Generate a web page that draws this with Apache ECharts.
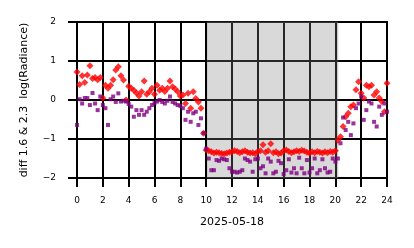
<!DOCTYPE html>
<html>
<head>
<meta charset="utf-8">
<script src="https://cdn.jsdelivr.net/npm/echarts@6/dist/echarts.min.js"></script>
<style>
    html, body { margin: 0; padding: 0; background: #fff; }
    #chart { width: 414px; height: 248px; }
</style>
</head>
<body>
<div id="chart"></div>
<script>
    // hours of the day (UTC)
    var hours = [
        0.0, 0.2, 0.4, 0.6, 0.8, 1.0, 1.2, 1.4, 1.6, 1.8,
        2.0, 2.2, 2.4, 2.6, 2.8, 3.0, 3.2, 3.4, 3.6, 3.8,
        4.0, 4.2, 4.4, 4.6, 4.8, 5.0, 5.2, 5.4, 5.6, 5.8,
        6.0, 6.2, 6.4, 6.6, 6.8, 7.0, 7.2, 7.4, 7.6, 7.8,
        8.0, 8.2, 8.4, 8.6, 8.8, 9.0, 9.2, 9.4, 9.6, 9.8,
        10.0, 10.2, 10.4, 10.6, 10.8, 11.0, 11.2, 11.4, 11.6, 11.8,
        12.0, 12.2, 12.4, 12.6, 12.8, 13.0, 13.2, 13.4, 13.6, 13.8,
        14.0, 14.2, 14.4, 14.6, 14.8, 15.0, 15.2, 15.4, 15.6, 15.8,
        16.0, 16.2, 16.4, 16.6, 16.8, 17.0, 17.2, 17.4, 17.6, 17.8,
        18.0, 18.2, 18.4, 18.6, 18.8, 19.0, 19.2, 19.4, 19.6, 19.8,
        20.0, 20.2, 20.4, 20.6, 20.8, 21.0, 21.2, 21.4, 21.6, 21.8,
        22.0, 22.2, 22.4, 22.6, 22.8, 23.0, 23.2, 23.4, 23.6, 23.8,
        24.0
    ];

    // red diamonds
    var diffRed = [
        0.72, 0.40, 0.62, 0.45, 0.64, 0.88, 0.55, 0.58, 0.52, 0.58,
        0.05, 0.38, 0.30, 0.38, 0.52, 0.77, 0.85, 0.62, 0.51, 0.00,
        0.35, 0.30, 0.25, 0.18, 0.10, 0.21, 0.49, 0.15, 0.21, 0.30,
        0.15, 0.38, 0.25, 0.30, 0.22, 0.30, 0.49, 0.34, 0.28, 0.21,
        0.10, 0.13, -0.09, 0.17, -0.21, 0.21, 0.04, -0.05, -0.21, -0.85,
        -1.28, -1.30, -1.33, -1.36, -1.34, -1.35, -1.37, -1.38, -1.36, -1.34,
        -1.33, -1.30, -1.32, -1.35, -1.33, -1.30, -1.34, -1.36, -1.35, -1.38,
        -1.32, -1.30, -1.15, -1.34, -1.30, -1.12, -1.35, -1.33, -1.38, -1.36,
        -1.30, -1.28, -1.32, -1.35, -1.33, -1.30, -1.32, -1.29, -1.31, -1.34,
        -1.36, -1.33, -1.35, -1.32, -1.34, -1.36, -1.33, -1.35, -1.32, -1.34,
        -1.30, -1.03, -0.94, -0.68, -0.43, -0.34, -0.17, -0.13, 0.26, 0.47,
        0.17, 0.05, 0.38, 0.34, 0.38, 0.13, 0.21, 0.05, -0.04, -0.30,
        0.43
    ];

    // purple squares
    var diffPurple = [
        -0.64, 0.02, -0.09, 0.05, 0.05, -0.13, 0.18, -0.09, -0.26, 0.09,
        -0.13, -0.21, -0.64, 0.02, 0.09, -0.05, 0.17, -0.04, -0.02, -0.04,
        -0.10, -0.17, -0.43, -0.26, -0.38, -0.26, -0.38, -0.30, -0.21, -0.13,
        -0.08, -0.04, 0.00, -0.05, -0.09, -0.02, 0.09, -0.05, -0.09, -0.13,
        -0.15, -0.21, -0.51, -0.30, -0.56, -0.34, -0.30, -0.64, -0.47, -0.85,
        -1.25, -1.50, -1.80, -1.80, -1.54, -1.56, -1.50, -1.52, -1.54, -1.75,
        -1.84, -1.84, -1.86, -1.84, -1.80, -1.50, -1.54, -1.58, -1.84, -1.52,
        -1.50, -1.75, -1.70, -1.88, -1.50, -1.58, -1.88, -1.84, -1.56, -1.62,
        -1.90, -1.80, -1.52, -1.86, -1.75, -1.88, -1.48, -1.75, -1.88, -1.54,
        -1.86, -1.75, -1.50, -1.88, -1.80, -1.52, -1.75, -1.86, -1.84, -1.50,
        -1.58, -1.50, -1.11, -0.45, -0.77, -0.56, -0.90, -0.60, -0.21, -0.09,
        0.09, -0.51, -0.26, -0.04, -0.09, -0.56, -0.68, -0.17, -0.38, -0.09,
        -0.30
    ];

    // night-time shading (hours)
    var shadeStart = 10.1;
    var shadeEnd = 20.2;

    function pairs(ys) {
        var out = [];
        for (var i = 0; i < hours.length; i++) {
            out.push([hours[i], ys[i]]);
        }
        return out;
    }

    var font = "DejaVu Sans";
    var chart = echarts.init(document.getElementById("chart"));
    chart.setOption({
        animation: false,
        grid: {
            left: 77,
            right: 27,
            top: 22,
            bottom: 70,
            show: true,
            borderColor: "#000",
            borderWidth: 2
        },
        xAxis: {
            type: "value",
            min: 0,
            max: 24,
            interval: 2,
            name: "2025-05-18",
            nameLocation: "middle",
            nameGap: 39,
            nameTextStyle: { color: "#000", fontSize: 11, fontFamily: font },
            axisLine: { show: true, onZero: false, lineStyle: { color: "#000", width: 2 } },
            axisTick: { show: true, length: 9, lineStyle: { color: "#000", width: 2 } },
            axisLabel: { color: "#000", fontSize: 9, fontFamily: font, margin: 18 },
            splitLine: { show: true, lineStyle: { color: "#000", width: 2 } }
        },
        yAxis: {
            type: "value",
            min: -2,
            max: 2,
            interval: 1,
            name: "diff 1.6 & 2.3  log(Radiance)",
            nameLocation: "middle",
            nameGap: 47,
            nameTextStyle: { color: "#000", fontSize: 11, fontFamily: font },
            axisLine: { show: true, onZero: false, lineStyle: { color: "#000", width: 2 } },
            axisTick: { show: true, length: 9, lineStyle: { color: "#000", width: 2 } },
            axisLabel: {
                color: "#000", fontSize: 9, fontFamily: font, margin: 21,
                formatter: function (v) { return String(v).replace("-", "\u2212"); }
            },
            splitLine: { show: true, lineStyle: { color: "#000", width: 2 } }
        },
        series: [
            {
                type: "scatter",
                symbol: "diamond",
                symbolSize: 7,
                itemStyle: { color: "#ff0000" },
                data: pairs(diffRed),
                z: 2
            },
            {
                type: "scatter",
                symbol: "rect",
                symbolSize: 4,
                itemStyle: { color: "#800080" },
                data: pairs(diffPurple),
                z: 3
            },
            {
                type: "scatter",
                data: [],
                z: 5,
                silent: true,
                markArea: {
                    silent: true,
                    itemStyle: {
                        color: "rgba(128,128,128,0.3)",
                        borderColor: "rgba(128,128,128,0.3)",
                        borderWidth: 1
                    },
                    data: [[{ xAxis: shadeStart }, { xAxis: shadeEnd }]]
                }
            }
        ]
    });
</script>
</body>
</html>
